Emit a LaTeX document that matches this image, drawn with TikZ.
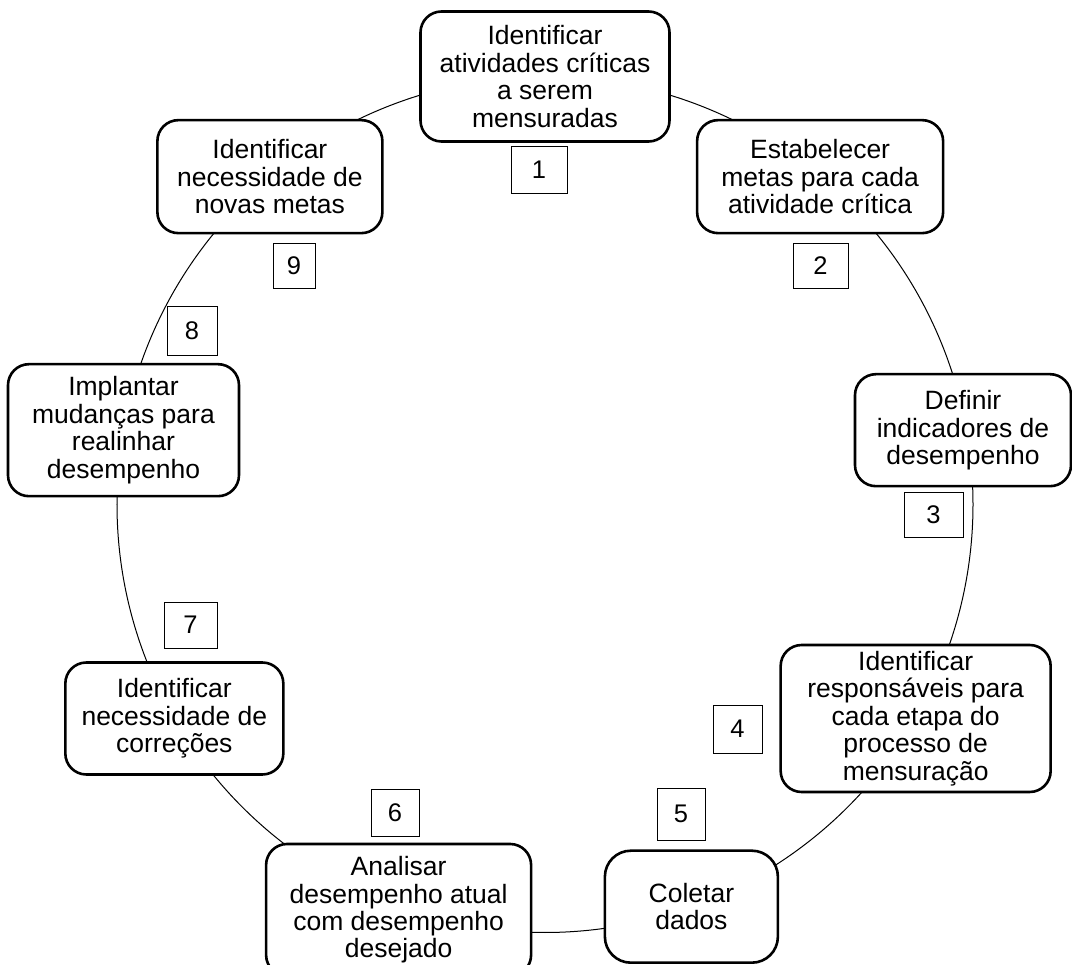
\documentclass[tikz,border=0pt]{standalone}
\usepackage{fontspec}
\setmainfont{Liberation Sans}
\usetikzlibrary{calc}
\begin{document}
\begin{tikzpicture}[x=1pt,y=-1pt,
  stage/.style={draw,line width=2.6pt,rounded corners=21pt,fill=white,align=center,inner sep=0pt,font=\fontsize{26.5}{27.4}\selectfont},
  numbox/.style={draw,line width=0.9pt,fill=white,inner sep=0pt,font=\fontsize{25.5}{27}\selectfont},
  ring/.style={line width=1pt}]
\useasboundingbox (0,0) rectangle (1072,965);
\def\R{428}
\coordinate (c) at (545,504.5);
\foreach \i/\a in {1/-90,2/-50,3/-10,4/30,5/70,6/110,7/150,8/190,9/230}{
  \coordinate (p\i) at ($(c)+(\a:\R)$);
}
% cycle arcs, each from one stage to the next
\foreach \i/\a in {1/-90,2/-50,3/-10,4/30,5/70,6/110,7/150,8/190,9/230}{
  \draw[ring] (p\i) arc[start angle=\a, delta angle=40, radius=\R];
}
% stages
\node[stage,minimum width=249pt,minimum height=130pt] (s1) at (p1) {Identificar\\atividades críticas\\a serem\\mensuradas};
\node[stage,minimum width=246pt,minimum height=113pt] (s2) at (p2) {Estabelecer\\metas para cada\\atividade crítica};
\node[stage,minimum width=216pt,minimum height=112pt] (s3) at ([xshift=-3.5pt]p3) {Definir\\indicadores de\\desempenho};
\node[stage,minimum width=270pt,minimum height=147pt] (s4) at (p4) {Identificar\\responsáveis para\\cada etapa do\\processo de\\mensuração};
\node[stage,minimum width=173pt,minimum height=112pt,rounded corners=26pt] (s5) at (p5) {Coletar\\dados};
\node[stage,minimum width=265pt,minimum height=132pt] (s6) at ([yshift=-3.3pt]p6) {Analisar\\desempenho atual\\com desempenho\\desejado};
\node[stage,minimum width=218pt,minimum height=112pt] (s7) at (p7) {Identificar\\necessidade de\\correções};
\node[stage,minimum width=231pt,minimum height=132pt] (s8) at (p8) {Implantar\\mudanças para\\realinhar\\desempenho};
\node[stage,minimum width=225pt,minimum height=113pt] (s9) at (p9) {Identificar\\necessidade de\\novas metas};
% step numbers
\node[numbox,minimum width=56pt,minimum height=47pt] (n1) at (539,169.5) {1};
\node[numbox,minimum width=55pt,minimum height=45pt] (n2) at (820.5,265.5) {2};
\node[numbox,minimum width=59pt,minimum height=45pt] (n3) at (933.5,514.5) {3};
\node[numbox,minimum width=49pt,minimum height=48pt] (n4) at (737.5,729) {4};
\node[numbox,minimum width=48pt,minimum height=52pt] (n5) at (681,814) {5};
\node[numbox,minimum width=48pt,minimum height=47pt] (n6) at (395,812.5) {6};
\node[numbox,minimum width=53pt,minimum height=46pt] (n7) at (190.5,625) {7};
\node[numbox,minimum width=50pt,minimum height=49pt] (n8) at (192,330.5) {8};
\node[numbox,minimum width=42pt,minimum height=45pt] (n9) at (294,265.5) {9};
\end{tikzpicture}
\end{document}
